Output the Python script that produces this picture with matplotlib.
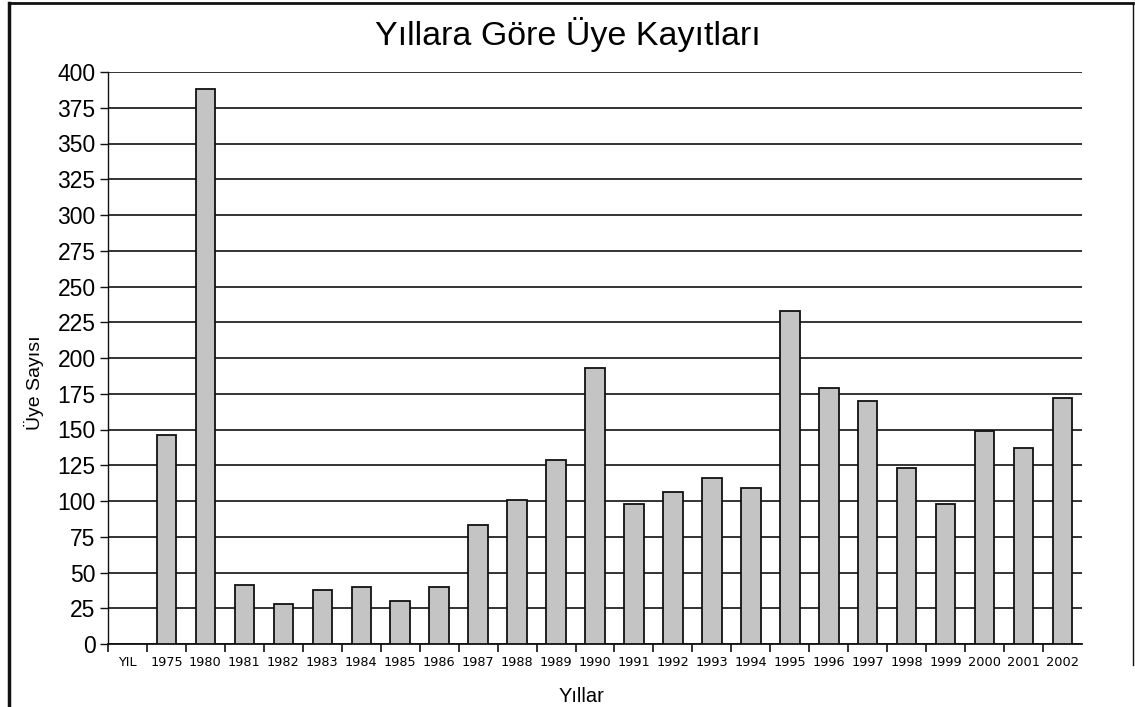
import matplotlib
matplotlib.use("Agg")
import matplotlib.pyplot as plt
from matplotlib.lines import Line2D
import numpy as np

categories = ["YIL", "1975", "1980", "1981", "1982", "1983", "1984", "1985", "1986",
              "1987", "1988", "1989", "1990", "1991", "1992", "1993", "1994", "1995",
              "1996", "1997", "1998", "1999", "2000", "2001", "2002"]
values = [0, 146, 388, 41, 28, 38, 40, 30, 40,
          83, 101, 129, 193, 98, 106, 116, 109, 233,
          179, 170, 123, 98, 149, 137, 172]
y_ticks = list(range(0, 401, 25))

title = "Yıllara Göre Üye Kayıtları"
xlabel = "Yıllar"
ylabel = "Üye Sayısı"

W, H = 1135, 707
fig = plt.figure(figsize=(W / 100, H / 100), dpi=100)
fig.patch.set_facecolor("white")

left, right, top, bottom = 108, 1082, 72, 644
ax = fig.add_axes([left / W, 1 - bottom / H, (right - left) / W, (bottom - top) / H])

x = np.arange(len(categories))
ax.bar(x, values, width=0.5, color="#c4c4c4", edgecolor="#111111", linewidth=1.3, zorder=3)

ax.set_xlim(-0.5, len(categories) - 0.5)
ax.set_ylim(0, 400)
ax.set_yticks(y_ticks)
ax.set_yticklabels([str(v) for v in y_ticks], fontsize=16.5, family="Liberation Sans")
ax.yaxis.grid(True, color="#111111", linewidth=1.2, zorder=1)
ax.set_axisbelow(True)

ax.set_xticks(x)
ax.set_xticklabels(categories, fontsize=9.3, family="DejaVu Sans")
ax.tick_params(axis="x", length=0, pad=9)
ax.set_xticks(np.arange(-0.5, len(categories) - 1, 1.0), minor=True)
ax.tick_params(axis="x", which="minor", length=6, width=1.2, color="#111111", direction="out")
ax.tick_params(axis="y", length=6, width=1.0, color="#111111", pad=3)

for s in ["top", "right"]:
    ax.spines[s].set_visible(False)
ax.spines["left"].set_color("#111111")
ax.spines["left"].set_linewidth(1.0)
ax.spines["bottom"].set_color("#111111")
ax.spines["bottom"].set_linewidth(1.3)

fig.text(568 / W, 1 - 34 / H, title, ha="center", va="center", fontsize=24.5,
         family="Liberation Sans")
fig.text(582 / W, 1 - 697 / H, xlabel, ha="center", va="center", fontsize=14.5,
         family="Liberation Sans")
fig.text(34 / W, 1 - 383 / H, ylabel, ha="center", va="center", rotation=90,
         fontsize=14, family="Liberation Sans")

# outer frame (left, top, right edges)
fig.add_artist(Line2D([9 / W, 9 / W], [0, 1 - 3 / H], color="#111111", linewidth=2.5,
                      transform=fig.transFigure))
fig.add_artist(Line2D([9 / W, 1133 / W], [1 - 3 / H, 1 - 3 / H], color="#111111",
                      linewidth=2.0, transform=fig.transFigure))
fig.add_artist(Line2D([1133 / W, 1133 / W], [1 - 665 / H, 1 - 3 / H], color="#111111",
                      linewidth=1.0, transform=fig.transFigure))

fig.savefig("out.png", dpi=100, facecolor="white")
